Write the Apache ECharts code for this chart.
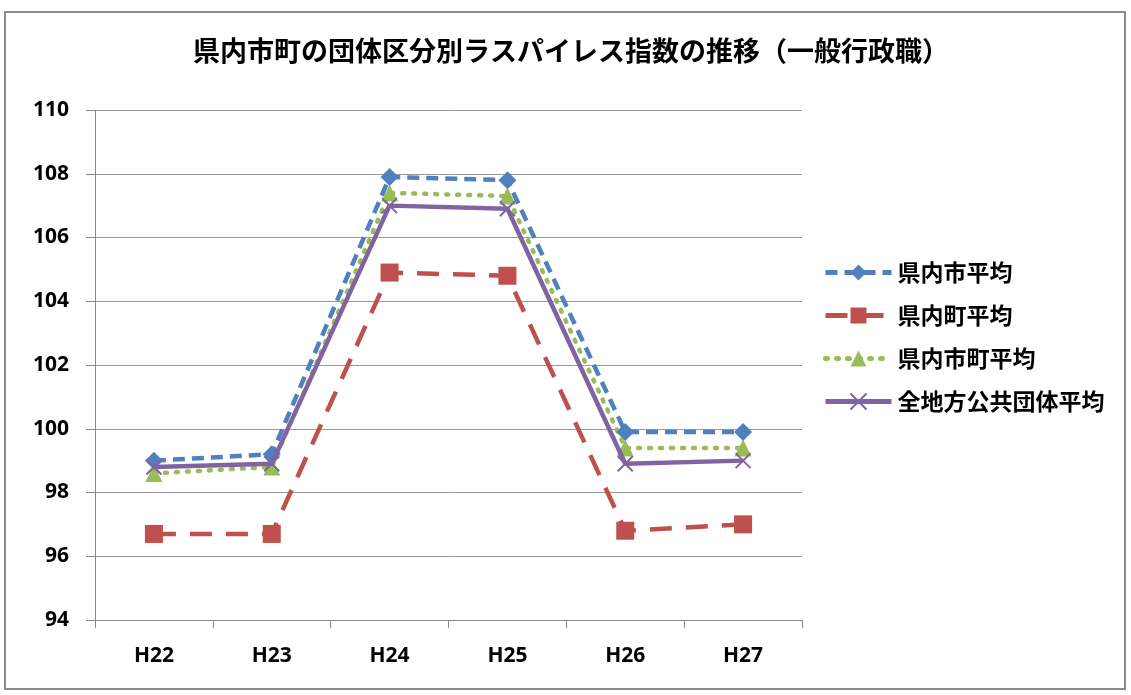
<!DOCTYPE html>
<html><head><meta charset="utf-8">
<script src="https://cdn.jsdelivr.net/npm/echarts@6/dist/echarts.min.js"></script>
<style>html,body{margin:0;padding:0;background:#fff}#c{width:1131px;height:695px}</style>
</head><body><div id="c"></div>
<script>
const categories = ['H22','H23','H24','H25','H26','H27'];
const cityAvg = [99.0, 99.2, 107.9, 107.8, 99.9, 99.9];
const townAvg = [96.7, 96.7, 104.9, 104.8, 96.8, 97.0];
const cityTownAvg = [98.6, 98.8, 107.4, 107.3, 99.4, 99.4];
const nationalAvg = [98.8, 98.9, 107.0, 106.9, 98.9, 99.0];
const seriesNames = ['県内市平均','県内町平均','県内市町平均','全地方公共団体平均'];
const titleText = '県内市町の団体区分別ラスパイレス指数の推移（一般行政職）';

const font = '"Noto Sans CJK JP","Noto Sans",sans-serif';
const numFont = '"Open Sans","Liberation Sans",sans-serif';
const chart = echarts.init(document.getElementById('c'));
chart.setOption({
  animation:false,
  backgroundColor:'#fff',
  graphic:[{type:'rect',shape:{x:5,y:12,width:1120,height:677},style:{fill:'none',stroke:'#8c8c8c',lineWidth:2},silent:true}],
  title:{text:titleText,left:566,textAlign:'center',top:32,textStyle:{fontFamily:font,fontSize:27,fontWeight:'bold',color:'#000'}},
  grid:{left:95,right:329,top:110,bottom:75,containLabel:false},
  legend:{orient:'vertical',left:818,top:256,itemGap:20,itemWidth:66,itemHeight:20,
    lineStyle:{width:5},
    textStyle:{fontFamily:font,fontSize:23,fontWeight:'bold',color:'#000',padding:[0,0,0,1]},
    data:seriesNames},
  xAxis:{type:'category',data:categories,boundaryGap:true,
    axisLine:{lineStyle:{color:'#888',width:1}},
    axisTick:{show:true,length:8,lineStyle:{color:'#888'}},
    axisLabel:{fontFamily:numFont,fontSize:21,fontWeight:'bold',color:'#000',margin:26}},
  yAxis:{type:'value',min:94,max:110,interval:2,
    axisLine:{show:true,lineStyle:{color:'#888',width:1}},
    axisTick:{show:true,length:9,lineStyle:{color:'#888'}},
    splitLine:{lineStyle:{color:'#999',width:1}},
    axisLabel:{fontFamily:numFont,fontSize:21,fontWeight:'bold',color:'#000',margin:26}},
  series:[
    {name:seriesNames[0],type:'line',data:cityAvg,symbol:'diamond',symbolSize:18,
      lineStyle:{color:'#4f81bd',width:4.5,type:[12,7]},itemStyle:{color:'#4f81bd'},z:4},
    {name:seriesNames[1],type:'line',data:townAvg,symbol:'rect',symbolSize:18,
      lineStyle:{color:'#c0504d',width:4.5,type:[22,14]},itemStyle:{color:'#c0504d'},z:3},
    {name:seriesNames[2],type:'line',data:cityTownAvg,symbol:'triangle',symbolSize:17,
      lineStyle:{color:'#9bbb59',width:4.5,type:[2,9],cap:'round'},itemStyle:{color:'#9bbb59'},z:2},
    {name:seriesNames[3],type:'line',data:nationalAvg,symbol:'path://M0,0L10,10M10,0L0,10',symbolSize:15,
      lineStyle:{color:'#8064a2',width:4.5},itemStyle:{color:'#8064a2',borderColor:'#8064a2',borderWidth:2},z:5}
  ]
});
</script></body></html>
